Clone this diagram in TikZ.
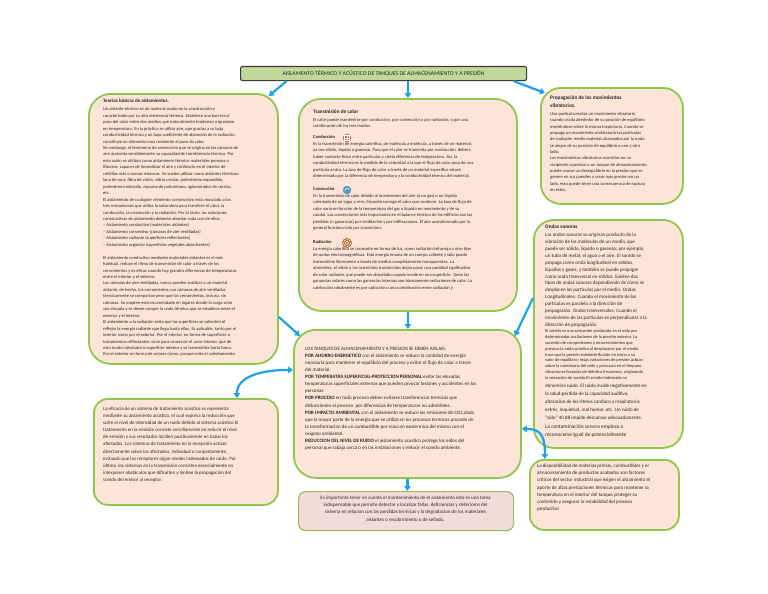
\documentclass[tikz,border=0pt]{standalone}
\usepackage{fontspec}
\setmainfont{Carlito}
\usepackage{tikz}
\usetikzlibrary{arrows.meta,positioning,calc}
\definecolor{mappeach}{HTML}{FCE4D6}
\definecolor{mapgreen}{HTML}{8DC84B}
\definecolor{mapolive}{HTML}{9BBB59}
\definecolor{mappink}{HTML}{F2DCDB}
\definecolor{maptitle}{HTML}{C4D79B}
\definecolor{mapdark}{HTML}{3B3B3B}
\definecolor{mapblue}{HTML}{1FA2E1}
\definecolor{maptext}{HTML}{262626}
\definecolor{iconred}{HTML}{D0575A}
\definecolor{iconblue}{HTML}{4A9CC0}
\definecolor{iconbrown}{HTML}{B97A3A}
\tikzset{
  panel/.style={draw=mapgreen, line width=1.8pt, fill=mappeach, rounded corners=22pt, anchor=north west, inner sep=0pt},
  smallpanel/.style={panel, rounded corners=14pt},
  notebox/.style={draw=mapolive, line width=1.2pt, fill=mappink, rounded corners=7pt, anchor=north west, inner sep=0pt},
  titlebox/.style={draw=mapdark, line width=1.1pt, fill=maptitle, rounded corners=2pt, anchor=north west, inner sep=0pt},
  txt/.style={anchor=north west, align=left, inner sep=0pt, text=maptext},
  flow/.style={-{Triangle[length=5pt,width=6.5pt]}, draw=mapblue, line width=2.2pt},
  twoway/.style={{Triangle[length=5pt,width=6.5pt]}-{Triangle[length=5pt,width=6.5pt]}, draw=mapblue, line width=2.2pt}
}

\begin{document}
\begin{tikzpicture}[x=1pt,y=-1pt]
  \fill[white] (0,0) rectangle (768,594);
  % boxes
  \node[titlebox, minimum width=286pt, minimum height=14pt] (titulo) at (240,66) {};
  \node[panel, minimum width=189pt, minimum height=270pt] (teorias) at (88,93) {};
  \node[panel, minimum width=218pt, minimum height=212pt] (transm) at (298,98) {};
  \node[panel, rounded corners=20pt, minimum width=142pt, minimum height=116pt] (propag) at (540,87) {};
  \node[panel, rounded corners=20pt, minimum width=149pt, minimum height=228pt] (ondas) at (533,219) {};
  \node[panel, minimum width=227pt, minimum height=148pt] (tanque) at (293,329) {};
  \node[smallpanel, minimum width=184pt, minimum height=106pt] (efic) at (93,398) {};
  \node[smallpanel, minimum width=149pt, minimum height=70pt] (disp) at (529,459) {};
  \node[notebox, minimum width=215pt, minimum height=39pt] (nota) at (298,491) {};

  \node[text=maptext, font=\fontsize{5.8}{7}\selectfont] (titulotxt) at (titulo.center)
    {AISLAMENTO TÉRMICO Y ACÚSTICO DE TANQUES DE ALMACENAMIENTO Y A PRESIÓN};

  % teorias
  \node[txt, font=\fontsize{5}{6}\selectfont\bfseries] (teoriastit) at (103,98.5) {Teorías básicas de aislamientos.};
  \node[txt, font=\fontsize{4.5}{6.45}\selectfont] (teoriastxt) at (103,107.5) {Un aislante térmico es un material usado en la construcción y\\
caracterizado por su alta resistencia térmica. Establece una barrera al\\
paso del calor entre dos medios que naturalmente tenderían a igualarse\\
en temperatura. En la práctica se utiliza aire, que gracias a su baja\\
conductividad térmica y un bajo coeficiente de absorción de la radiación,\\
constituye un elemento muy resistente al paso de calor.\\
Sin embargo, el fenómeno de convección que se origina en las cámaras de\\
aire aumenta sensiblemente su capacidad de transferencia térmica. Por\\
esta razón se utilizan como aislamiento térmico materiales porosos o\\
fibrosos, capaces de inmovilizar el aire y confinarlo en el interior de\\
celdillas más o menos estancas. Se suelen utilizar como aislantes térmicos:\\
lana de roca, fibra de vidrio, vidrio celular, poliestireno expandido,\\
poliestireno extruido, espuma de poliuretano, aglomerados de corcho,\\
etc.\\
El aislamiento de cualquier elemento constructivo está vinculado a los\\
tres mecanismos que utiliza la naturaleza para transferir el calor, la\\
conducción, la convección y la radiación. Por lo tanto, las soluciones\\
constructivas de aislamiento deberán abordar cada uno de ellos:\\
-- Aislamiento conductivo (materiales aislantes)\\
-- Aislamiento convectivo (cámaras de aire ventiladas)\\
-- Aislamiento radiante (superficies reflectantes)\\
-- Aislamiento orgánico (superficies vegetales absorbentes)\\[6.45pt]
El aislamiento conductivo mediante materiales aislantes es el más\\
habitual, reduce el ritmo de transmisión de calor a través de los\\
cerramientos y es eficaz cuando hay grandes diferencias de temperaturas\\
entre el interior y el exterior.\\
Las cámaras de aire ventiladas, nunca pueden sustituir a un material\\
aislante, de hecho, los cerramientos con cámaras de aire ventiladas\\
térmicamente se comportan peor que los cerramientos, incluso, sin\\
cámaras. Su empleo está recomendado en lugares donde la carga solar\\
sea elevada y se desee romper la onda térmica que se establece entre el\\
exterior y el interior.\\
El aislamiento a la radiación evita que las superficies se calienten al\\
reflejar la energía radiante que llega hasta ellas. Es aplicable, tanto por el\\
interior como por el exterior. Por el interior, en forma de superficies o\\
tratamientos reflectantes, sirve para conservar el calor interior, que de\\
otro modo calentaría la superficie interior y se transmitiría hacia fuera.\\
Por el exterior en forma de colores claros, porque evita el calentamiento};

  % transmision de calor
  \node[txt, font=\fontsize{5.3}{6.5}\selectfont\bfseries] (transmtit) at (313,109.5) {Transmisión de calor};
  \node[txt, font=\fontsize{4.5}{6.5}\selectfont] (transmtxt) at (313,118) {El calor puede transferirse por conducción, por convección o por radiación, o por una\\
combinación de los tres modos.\\[4.5pt]
\textbf{Conducción}\\
Es la transmisión de energía calorífica, de molécula a molécula, a través de un material,\\
ya sea sólido, líquido o gaseoso. Para que el calor se transmita por conducción, deberá\\
haber contacto físico entre partículas y cierta diferencia de temperatura. Así, la\\
conductividad térmica es la medida de la velocidad a la que el flujo de calor pasa de una\\
partícula a otra. La tasa de flujo de calor a través de un material específico estará\\
determinada por la diferencia de temperatura y la conductividad térmica del material.\\[6.5pt]
\textbf{Convección}\\
En la transmisión de calor debido al movimiento del aire (o un gas) o un líquido\\
calentado de un lugar a otro, llevando consigo el calor que contiene. La tasa de flujo de\\
calor varía en función de la temperatura del gas o líquido en movimiento y de su\\
caudal. Las convecciones más importantes en el balance térmico de los edificios son las\\
pérdidas (o ganancias) por ventilación y por infiltraciones. El aire acondicionado por lo\\
general funciona solo por convección.\\[7.5pt]
\textbf{Radiación}\\
La energía calorífica se transmite en forma de luz, como radiación infrarroja u otro tipo\\
de ondas electromagnéticas. Esta energía emana de un cuerpo caliente y sólo puede\\
transmitirse libremente a través de medios completamente transparentes. La\\
atmósfera, el vidrio y los materiales translúcidos dejan pasar una cantidad significativa\\
de calor radiante, que puede ser absorbido cuando incide en una superficie. Tanto las\\
ganancias solares como las ganancias internas son básicamente radiaciones de calor. La\\
calefacción idealmente es por radiación o una combinación entre radiación y};
  % icons
  \fill[iconred] (347,138) circle (4.2pt);
  \draw[white, line width=0.45pt] (344.6,135.6) rectangle (349.4,140.4) (344.6,138) -- (349.4,138) (347,135.6) -- (347,140.4);
  \fill[iconblue] (347,190) circle (4.2pt);
  \draw[white, line width=0.5pt] (344.8,191.2) .. controls (344.8,187.5) and (349.2,187.5) .. (349.2,190.5);
  \fill[iconbrown] (347,243) circle (5pt);
  \draw[white, line width=0.4pt] (347,243) circle (1.8pt);
  \foreach \a in {0,45,...,315}
    \draw[white, line width=0.4pt] ($(347,243)+(\a:2.6pt)$) -- ($(347,243)+(\a:3.8pt)$);

  % propagacion
  \node[txt, font=\fontsize{5.3}{8}\selectfont\bfseries] (propagtit) at (550,95.5) {Propagación de los movimientos\\vibratorios.};
  \node[txt, font=\fontsize{4.5}{6.35}\selectfont] (propagtxt) at (550,112) {Una partícula realiza un movimiento vibratorio\\
cuando oscila alrededor de su posición de equilibrio\\
moviéndose sobre la misma trayectoria. Cuando se\\
propaga un movimiento ondulatorio las partículas\\
de cualquier medio material alcanzados por la onda\\
se alejan de su posición de equilibrio a uno y otro\\
lado.\\
Los movimientos vibratorios ocurridos en un\\
recipiente a presion o un tanque de almacenamiento\\
puede causar un desequilibrio en la presion que se\\
genere en sus paredes y crear mas presion en un\\
lado, esto puede tener una consecuencia de ruptura\\
en estos.};

  % ondas sonoras
  \node[txt, font=\fontsize{5.3}{6.5}\selectfont\bfseries] (ondastit) at (545,225) {Ondas sonoras};
  \node[txt, font=\fontsize{5}{6.9}\selectfont] (ondastxta) at (545,233) {Las ondas sonoras se originan producto de la\\
vibración de las moléculas de un medio, que\\
puede ser sólido, líquido o gaseoso; por ejemplo,\\
un tubo de metal, el agua o el aire. El sonido se\\
propaga como onda longitudinal en sólidos,\\
líquidos y gases, y también se puede propagar\\
como onda transversal en sólidos. Existen dos\\
tipos de ondas sonoras dependiendo de cómo se\\
desplacen las partículas por el medio: Ondas\\
Longitudinales: Cuando el movimiento de las\\
partículas es paralelo a la dirección de\\
propagación. Ondas transversales: Cuando el\\
movimiento de las partículas es perpendicular a la\\
dirección de propagación.};
  \node[txt, font=\fontsize{4.4}{5.9}\selectfont] (ondastxtb) at (545,329.2) {El sonido es una sensación producida en el oído por\\
determinadas oscilaciones de la presión exterior. La\\
sucesión de compresiones y enrarecimientos que\\
provoca la onda acústica al desplazarse por el medio\\
hace que la presión existente fluctúe en torno a su\\
valor de equilibrio; estas variaciones de presión actúan\\
sobre la membrana del oído y provocan en el tímpano\\
vibraciones forzadas de idéntica frecuencia, originando\\
la sensación de sonido.El sonido indeseado se};
  \node[txt, font=\fontsize{5}{8}\selectfont] (ondastxtc) at (545,383.8) {denomina ruido. El ruido incide negativamente en\\
la salud:pérdida de la capacidad auditiva,\\
alteración de los ritmos cardíaco y respiratorio;\\
estrés, inquietud, mal humor, etc. Un ruido de\\
``sólo'' 40 dB impide descansar adecuadamente.};
  \node[txt, font=\fontsize{5.4}{8.3}\selectfont] (ondastxtd) at (545,424.6) {La contaminación sonora empieza a\\
reconocerse igual de potencialmente};

  % tanques
  \node[txt, font=\fontsize{5}{7.1}\selectfont] (tanquetxt) at (305,346.8) {LOS TANQUES DE ALMACENAMIENTO Y A PRESION SE DEBEN AISLAR::\\
\textbf{POR AHORRO ENERGETICO} con el aislamiento se reduce la cantidad de energia\\
necesaria para mantener el equilibrio del proceso y evitar el flujo de calor a traves\\
del material.\\
\textbf{POR TEMPERATRA SUPERFICIAL-PROTECCION PERSONAL} evitar las elevadas\\
temperaturas superficiales externas que pueden prvocar lesiones y accidentes en las\\
personas\\
\textbf{POR PROCESO} en todo proceso deben evitarse transferencias termicas que\\
disfuncionen el proceso \ por diferencias de temperaturas no admisibles.\\
\textbf{POR IMPACTO AMBIENTAL} con el aislamiento se reduce las emisiones de CO2,dado\\
que la mayor parte de la energia que se utiliza en los procesos termicos procede de\\
la transformacion de un combustible por reaccon exotermica del mismo con el\\
oxigeno ambiental.\\
\textbf{REDUCCION DEL NIVEL DE RUIDO} el aislamiento acustico protege los oidos del\\
personal que rabaja cerca o en las instalaciones y reducir el sonido ambiente.};

  % eficacia
  \node[txt, font=\fontsize{4.9}{7.1}\selectfont] (efictxt) at (103,406.8) {La eficacia de un sistema de tratamiento acústico se representa\\
mediante su aislamiento acústico, el cual expresa la reducción que\\
sufre el nivel de intensidad de un ruido debido al sistema acústico El\\
tratamiento en la emisión consiste sencillamente en reducir el nivel\\
de emisión y sus resultados inciden positivamente en todos los\\
afectados. Los sistemas de tratamiento en la recepción actúan\\
directamente sobre los afectados, individual o conjuntamente,\\
evitando que los receptores oigan niveles indeseados de ruido. Por\\
último, los sistemas en la transmisión consisten esencialmente en\\
interponer obstáculos que dificulten y limiten la propagación del\\
sonido del emisor al receptor.};

  % disponibilidad
  \node[txt, font=\fontsize{5}{7.2}\selectfont] (disptxt) at (537,463.8) {La disponibilidad de materias primas, combustibles y el\\
almacenamiento de productos acabados son factores\\
críticos del sector industrial que exigen el aislamiento el\\
aporte de altas prestaciones térmicas para mantener la\\
temperatura en el interior del tanque proteger su\\
contenido y asegurar la estabilidad del proceso\\
productivo};

  % nota
  \node[anchor=north, align=center, inner sep=0pt, text=maptext, font=\fontsize{5}{7.2}\selectfont] (notatxt) at (405.5,495.8) {Es importante tener en cuenta el mantenimiento de el aislamiento esta es una tarea\\
indispensable que permite detectar y localizar fallas, deficiencias y deterioros del\\
sistema en relacion con las perdidas termicas y la degradacion de los materiales\\
aislantes o recubrimiento o de sellado.};

  % connectors
  \draw[flow] ([xshift=-97pt]titulo.south) -- ([shift={(-10,3)}]teorias.north east);
  \draw[flow] (titulo.south -| transm.north) -- (transm.north);
  \draw[flow] ([xshift=130pt]titulo.south) -- ([shift={(5,6)}]propag.north west);
  \draw[flow] ([shift={(0,88)}]teorias.east) -- ([shift={(7,7)}]tanque.north west);
  \draw[flow] (transm.south) -- (transm.south |- tanque.north);
  \draw[flow] ([shift={(0,-36)}]ondas.west) -- ([shift={(-7,7)}]tanque.north east);
  \draw[twoway] ([shift={(51,0)}]efic.north) .. controls +(0,-22) and +(-30,0) .. ([shift={(0,-34)}]tanque.west);
  \draw[twoway] ([shift={(0,25)}]tanque.east) .. controls +(20,0) and +(0,-22) .. ([shift={(-59.5,0)}]disp.north);
  \draw[flow] (tanque.south) -- (tanque.south |- nota.north);
\end{tikzpicture}
\end{document}
